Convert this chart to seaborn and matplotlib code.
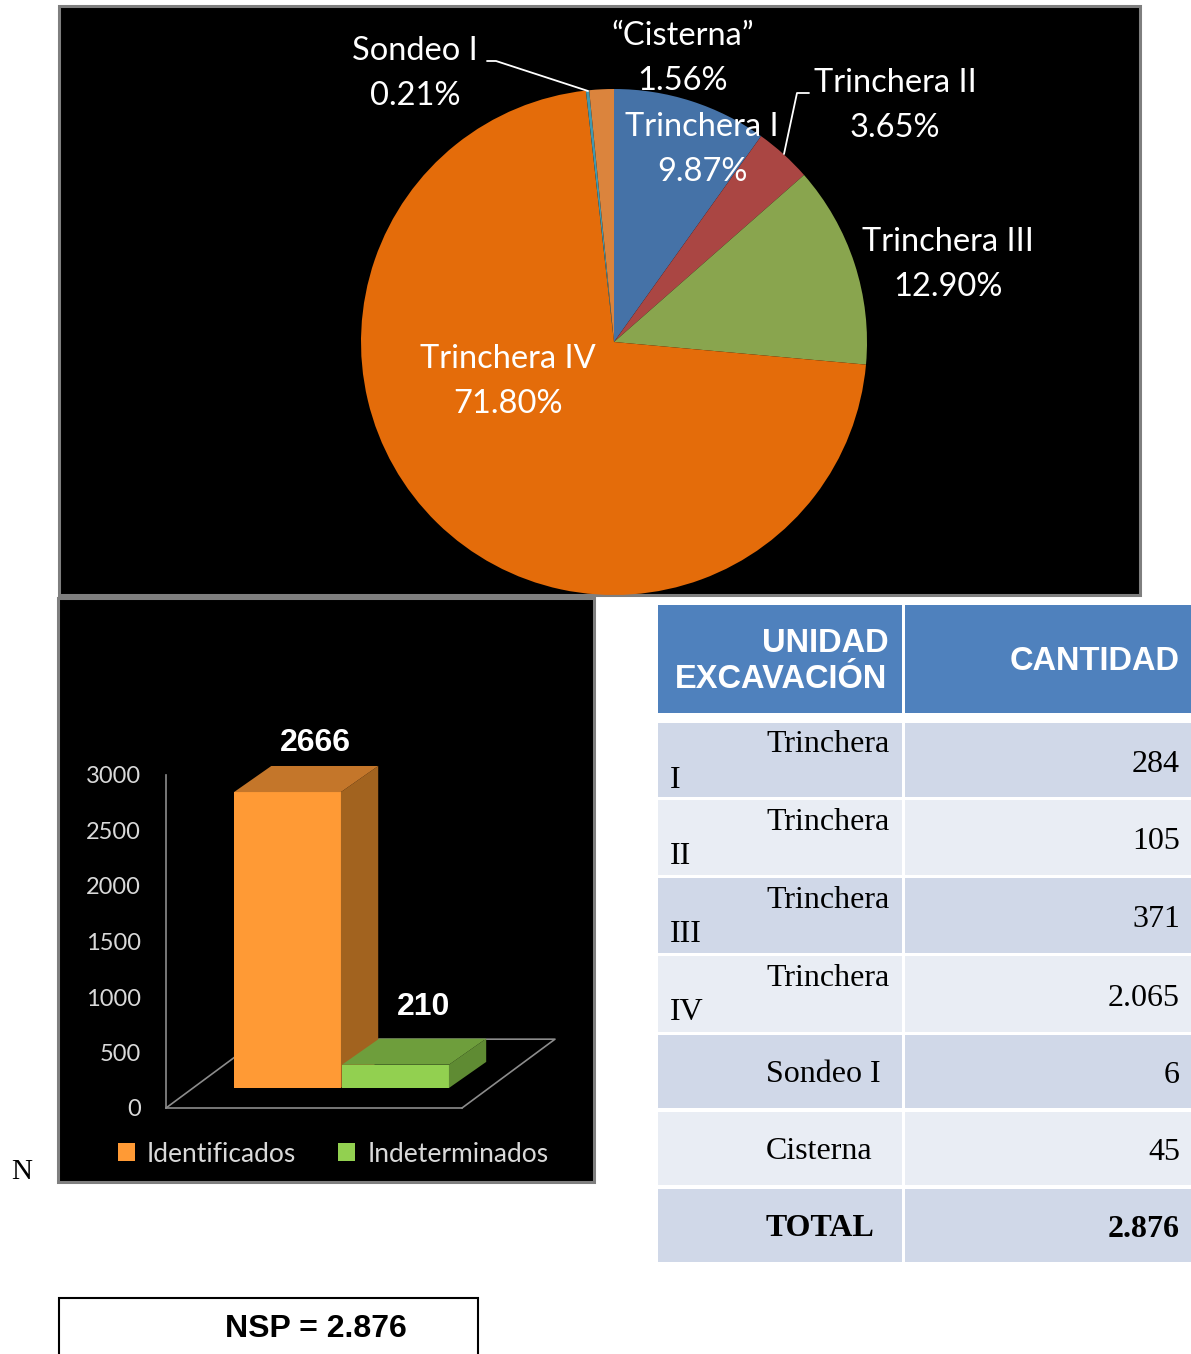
import numpy as np
import matplotlib
matplotlib.use("Agg")
import matplotlib.pyplot as plt
import seaborn as sns
from matplotlib.patches import Rectangle, Polygon, Patch
from matplotlib.transforms import ScaledTranslation

# data
unidades = ["Trinchera I", "Trinchera II", "Trinchera III", "Trinchera IV", "Sondeo I", "Cisterna"]
cantidades = [284, 105, 371, 2065, 6, 45]
pie_labels = ["Trinchera I", "Trinchera II", "Trinchera III", "Trinchera IV", "Sondeo I", "\u201cCisterna\u201d"]
pie_colors = ["#4572A7", "#AA4643", "#89A54E", "#E46C0A", "#4198AF", "#DB843D"]

bar_cats = ["Identificados", "Indeterminados"]
bar_vals = [2666, 210]
bar_front = ["#FF9A35", "#92D050"]
bar_top = ["#C4762A", "#6E9E3C"]
bar_side = ["#A2631F", "#5F8B33"]
yticks = [0, 500, 1000, 1500, 2000, 2500, 3000]

table_rows = [("Trinchera", "I"), ("Trinchera", "II"), ("Trinchera", "III"), ("Trinchera", "IV"),
              ("Sondeo I", ""), ("Cisterna", ""), ("TOTAL", "")]
table_vals = ["284", "105", "371", "2.065", "6", "45", "2.876"]
total = sum(cantidades)

sns.set_theme(style="white")
plt.rcParams["font.family"] = ["Lato", "DejaVu Sans"]

W, H = 1191, 1354
fig = plt.figure(figsize=(W / 100, H / 100), dpi=100)
fig.patch.set_facecolor("white")


def box(x0, y0, x1, y1):
    return [x0 / W, 1 - y1 / H, (x1 - x0) / W, (y1 - y0) / H]


canvas = fig.add_axes([0, 0, 1, 1], zorder=0)
canvas.set_xlim(0, W)
canvas.set_ylim(H, 0)
canvas.axis("off")

# black panels
canvas.add_patch(Rectangle((59, 6), 1081, 589, facecolor="black", edgecolor="#7F7F7F", lw=2.2))
canvas.add_patch(Rectangle((58, 598), 536, 584, facecolor="black", edgecolor="#7F7F7F", lw=2.2))

# ---- pie ----
ax_pie = fig.add_axes(box(60, 7, 1139, 594), zorder=1)
ax_pie.pie(cantidades, colors=pie_colors, startangle=90, counterclock=False,
           center=(614, H - 342), radius=253, wedgeprops=dict(linewidth=0))
ax_pie.set_xlim(60, 1139)
ax_pie.set_ylim(H - 594, H - 7)
ax_pie.set_aspect("auto")
ax_pie.axis("off")

label_pos = [(702, 127), (895, 83), (948, 242), (508, 359), (415, 51), (683, 36)]
for lab, n, (lx, ly) in zip(pie_labels, cantidades, label_pos):
    pct = f"{100 * n / total:.2f}%"
    ax_pie.text(lx, H - ly, lab, color="white", fontsize=23.5, ha="center", va="center")
    ax_pie.text(lx, H - ly - 45, pct, color="white", fontsize=23.5, ha="center", va="center")

ax_pie.plot([487, 496, 588], [H - 61, H - 61, H - 91], color="white", lw=1.3)
ax_pie.plot([809, 797, 784], [H - 93, H - 93, H - 154], color="white", lw=1.3)

# ---- 3D-ish bars ----
ax_bar = fig.add_axes(box(166, 775, 462, 1108), zorder=2)
ax_bar.set_facecolor("none")
sns.barplot(x=bar_cats, y=bar_vals, hue=bar_cats, palette=bar_front, width=0.99,
            saturation=1, legend=False, ax=ax_bar)
ax_bar.set_xlim(-0.875, 1.866)
ax_bar.set_ylim(0, 3000)
ax_bar.set_xticks([])
ax_bar.set_yticks(yticks)
ax_bar.tick_params(axis="y", length=0, pad=18, labelsize=17, labelcolor="#D9D9D9")
for s in ["top", "right"]:
    ax_bar.spines[s].set_visible(False)
for s in ["left", "bottom"]:
    ax_bar.spines[s].set_color("#8C8C8C")
    ax_bar.spines[s].set_linewidth(1.2)
ax_bar.set_xlabel("")
ax_bar.set_ylabel("")

# floor outline
fdx, fdy = 0.861, 620
x_lo, x_hi = -0.875, 1.866
ax_bar.plot([x_lo, x_lo + fdx, x_hi + fdx, x_hi], [0, fdy, fdy, 0],
            color="#8C8C8C", lw=1.2, clip_on=False, zorder=1)

shift = ax_bar.transData + ScaledTranslation(0.27, 0.20, fig.dpi_scale_trans)
ddx, ddy = 0.345, 235
lift = [0.08, 0.17]
for i, p in enumerate(ax_bar.patches[:len(bar_vals)]):
    z = 3 + i
    p.set_transform(shift)
    p.set_zorder(z)
    p.set_edgecolor("none")
    p.set_clip_on(False)
    x0, w, h = p.get_x(), p.get_width(), p.get_height()
    top = Polygon([(x0, h), (x0 + w, h), (x0 + w + ddx, h + ddy), (x0 + ddx, h + ddy)],
                  closed=True, facecolor=bar_top[i], edgecolor="none", transform=shift,
                  zorder=z, clip_on=False)
    side = Polygon([(x0 + w, 0), (x0 + w, h), (x0 + w + ddx, h + ddy), (x0 + w + ddx, ddy)],
                   closed=True, facecolor=bar_side[i], edgecolor="none", transform=shift,
                   zorder=z, clip_on=False)
    ax_bar.add_patch(side)
    ax_bar.add_patch(top)
    tr = shift + ScaledTranslation(0, lift[i], fig.dpi_scale_trans)
    ax_bar.text(x0 + w / 2 + 0.75 * ddx, h + ddy, str(bar_vals[i]), transform=tr,
                ha="center", va="bottom", color="white", fontsize=23, fontweight="bold",
                family=["Liberation Sans", "DejaVu Sans"], zorder=10, clip_on=False)

handles = [Patch(facecolor=c, edgecolor="none") for c in bar_front]
fig.legend(handles, bar_cats, ncol=2, frameon=False, fontsize=19, labelcolor="#D9D9D9",
           loc="center", bbox_to_anchor=(333 / W, 1 - 1154 / H),
           handlelength=0.65, handleheight=0.65, handletextpad=0.45, columnspacing=1.6)

# ---- table ----
serif = ["Liberation Serif", "DejaVu Serif"]
sans = ["Liberation Sans", "DejaVu Sans"]
c1 = (658, 902)
c2 = (905, 1191)
canvas.add_patch(Rectangle((c1[0], 605), c1[1] - c1[0], 108, facecolor="#4F81BD", edgecolor="none"))
canvas.add_patch(Rectangle((c2[0], 605), c2[1] - c2[0], 108, facecolor="#4F81BD", edgecolor="none"))
canvas.text(889, 643, "UNIDAD", ha="right", va="center", color="white", fontsize=23.5,
            fontweight="bold", family=sans)
canvas.text(887, 680, "EXCAVACIÓN", ha="right", va="center", color="white", fontsize=23.5,
            fontweight="bold", family=sans)
canvas.text(1180, 661, "CANTIDAD", ha="right", va="center", color="white", fontsize=23.5,
            fontweight="bold", family=sans)

row_tops = [723, 800, 878, 956, 1035, 1112, 1189]
row_bots = [797, 875, 953, 1032, 1108, 1185, 1262]
for i, ((name, num), val) in enumerate(zip(table_rows, table_vals)):
    t, b = row_tops[i], row_bots[i]
    fc = "#D0D8E8" if i % 2 == 0 else "#E9EDF4"
    canvas.add_patch(Rectangle((c1[0], t), c1[1] - c1[0], b - t, facecolor=fc, edgecolor="none"))
    canvas.add_patch(Rectangle((c2[0], t), c2[1] - c2[0], b - t, facecolor=fc, edgecolor="none"))
    bold = "bold" if name == "TOTAL" else "normal"
    if num:
        canvas.text(766, t + 22, name, ha="left", va="center", fontsize=23, family=serif, color="black")
        canvas.text(670, t + 57, num, ha="left", va="center", fontsize=23, family=serif, color="black")
    else:
        canvas.text(766, (t + b) / 2 + 3, name, ha="left", va="center", fontsize=23,
                    family=serif, fontweight=bold, color="black")
    canvas.text(1180, (t + b) / 2 + 4, val, ha="right", va="center", fontsize=23,
                family=serif, fontweight=bold, color="black")

# ---- extras ----
canvas.text(11, 1172, "N", ha="left", va="center", fontsize=21, family=serif, color="black")
canvas.add_patch(Rectangle((59, 1298), 419, 70, facecolor="white", edgecolor="black", lw=1.5))
canvas.text(316, 1329, f"NSP = {total / 1000:.3f}", ha="center", va="center", fontsize=23,
            fontweight="bold", family=sans, color="black")

fig.savefig("out.png", dpi=100)
